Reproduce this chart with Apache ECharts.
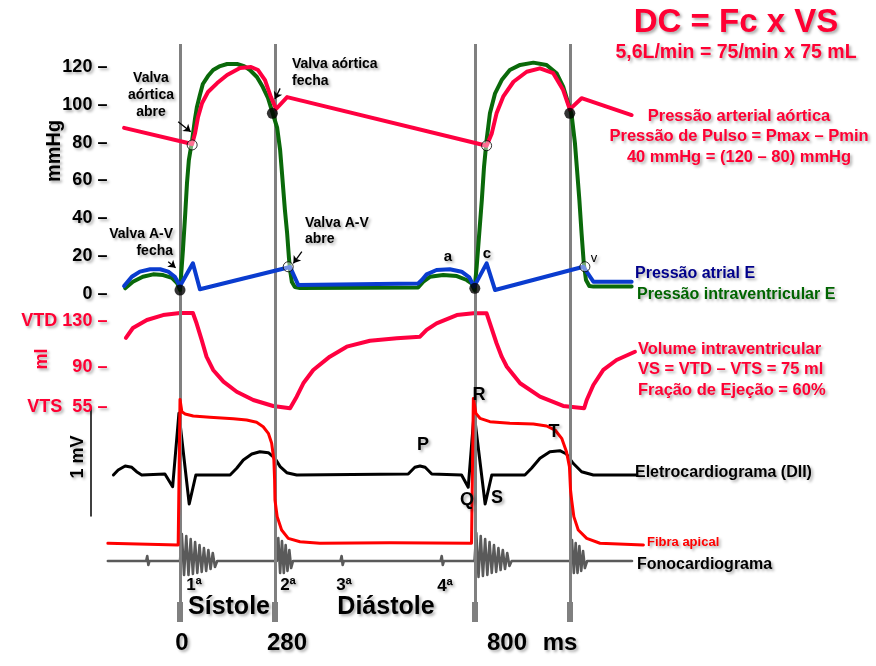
<!DOCTYPE html>
<html><head><meta charset="utf-8">
<script src="https://cdn.jsdelivr.net/npm/echarts@6/dist/echarts.min.js"></script>
<style>html,body{margin:0;padding:0;background:#fff}#c{width:876px;height:666px}</style>
</head><body><div id="c"></div>
<script>
// ---------- DATA (time in ms) ----------
const aorticPressure = [[-152,87.8],[33,79.3],[41,85.1],[49,93.6],[60,101.0],[76,106.8],[101,111.5],[128,115.8],[163,119.5],[193,120.0],[212,118.4],[231,113.1],[247,104.1],[261,97.8],[291,104.1],[833,78.4],[847,84.9],[860,95.5],[878,104.3],[906,112.2],[942,117.5],[978,119.3],[1014,116.7],[1041,107.8],[1059,97.6],[1091,103.5],[1227,94.6]];
const lvPressure = [[-149,3.0],[-128,6.5],[-101,9.1],[-73,10.4],[-46,10.0],[-22,8.5],[-8,5.8],[0,2.1],[5,15.3],[8,23.3],[14,41.8],[19,58.7],[24,70.8],[33,81.4],[41,93.0],[46,98.9],[54,105.2],[62,111.0],[76,115.2],[90,118.4],[109,120.5],[128,121.6],[155,121.6],[174,120.5],[190,118.4],[209,114.7],[225,109.4],[239,103.6],[250,96.7],[264,87.8],[272,76.1],[277,64.0],[285,44.4],[291,32.2],[296,19.0],[299,12.7],[304,6.3],[312,3.7],[326,3.2],[647,3.5],[661,6.5],[679,9.1],[715,10.0],[752,9.5],[779,7.4],[792,5.6],[800,2.1],[806,14.4],[813,32.1],[820,49.7],[826,67.3],[833,81.4],[842,95.5],[856,106.1],[874,113.1],[896,118.4],[924,121.1],[960,122.3],[996,121.1],[1023,116.7],[1041,109.6],[1055,100.8],[1064,94.6],[1073,79.7],[1078,67.3],[1085,49.7],[1091,32.1],[1097,16.2],[1103,7.4],[1112,4.2],[1123,3.9],[1227,3.9]];
const laPressure = [[-152,4.2],[-131,9.1],[-109,11.8],[-81,13.1],[-54,13.1],[-32,11.8],[-14,9.1],[0,4.2],[35,16.2],[54,2.5],[299,14.3],[303,14.4],[321,4.8],[647,5.6],[657,7.4],[670,10.4],[697,12.7],[733,13.1],[765,11.8],[786,8.8],[799,3.9],[833,16.2],[856,2.1],[1096,14.4],[1123,6.5],[1227,6.5]];
const lvVolume = [[-147,115.2],[-128,123.9],[-90,130.9],[-46,135.2],[0,137.0],[35,137.0],[45,128.0],[59,113.4],[72,98.9],[90,87.3],[118,77.1],[154,68.3],[199,61.1],[253,55.9],[299,53.9],[303,53.9],[317,64.0],[335,75.7],[362,87.3],[407,98.9],[453,107.6],[516,112.8],[589,114.9],[652,116.3],[670,122.2],[697,128.0],[752,135.2],[797,136.7],[833,136.7],[860,110.6],[874,98.9],[888,90.1],[924,75.7],[978,64.0],[1041,55.9],[1098,53.9],[1105,61.1],[1123,74.2],[1150,87.3],[1186,96.0],[1236,103.2]];
const ecgMv = [[-181,-0.020],[-168,0.026],[-149,0.063],[-131,0.051],[-118,0.010],[-104,-0.020],[-41,-0.011],[-20,-0.129],[-3,0.551],[25,-0.289],[43,-0.020],[136,-0.020],[154,0.042],[172,0.119],[195,0.174],[217,0.195],[240,0.186],[258,0.134],[272,0.057],[290,0.001],[317,-0.020],[620,-0.011],[638,0.051],[652,0.063],[666,0.051],[684,-0.011],[765,-0.020],[783,-0.134],[799,0.551],[829,-0.289],[847,-0.020],[937,-0.020],[955,0.042],[978,0.134],[1005,0.195],[1032,0.205],[1050,0.174],[1068,0.088],[1091,0.010],[1123,-0.020],[1241,-0.020]];
const apicalFiberMv = [[-196,-89.4],[-5,-90.8],[0,24.7],[5,14.9],[14,13.1],[36,11.5],[81,10.5],[145,9.4],[181,8.3],[208,6.5],[226,3.0],[240,-2.2],[249,-10.1],[255,-23.4],[257,-39.2],[258,-55.1],[264,-68.3],[276,-78.9],[294,-85.5],[326,-88.2],[380,-89.4],[570,-89.0],[792,-89.4],[797,25.5],[804,13.6],[815,9.7],[842,7.0],[896,5.7],[960,5.2],[996,3.6],[1019,0.4],[1037,-6.2],[1050,-16.8],[1058,-28.7],[1061,-47.2],[1064,-55.1],[1070,-68.3],[1082,-78.9],[1105,-85.5],[1141,-89.4],[1259,-90.8]];
const phono = [[-196,0],[-92,0],[-89,5],[-86,-4],[-83,0],[0,0],[5,27],[11,-14],[17,25],[23,-14],[29,22],[35,-13],[41,19],[47,-12],[53,16],[59,-11],[65,13],[71,-10],[77,11],[83,-8],[89,8],[95,-6],[101,0],[263,0],[267,23],[272,-12],[277,20],[282,-12],[287,16],[292,-10],[297,11],[302,-7],[307,0],[436,0],[439,5],[442,-4],[445,0],[708,0],[711,5],[714,-4],[717,0],[800,0],[805,28],[811,-16],[817,25],[823,-15],[829,22],[835,-14],[841,19],[847,-12],[853,16],[859,-11],[865,13],[871,-9],[877,11],[883,-8],[889,8],[895,-5],[901,0],[1061,0],[1065,21],[1070,-12],[1075,18],[1080,-12],[1085,15],[1090,-10],[1095,10],[1100,-7],[1106,0],[1228,0]];
const cycleMarksMs = [0, 258, 801, 1059];
const valveClosed = [[0,2.1],[251,95.5],[801,3.0],[1059,95.5]];
const valveOpen = [[33,78.8],[294,14.4],[833,78.4],[1100,14.4]];
const valveArrows = [[[-5,91.1],[29,85.8]],[[-32,17.1],[-12,13.9]],[[272,108.7],[258,103.1]],[[331,22.4],[308,16.2]]];
const pressureTicks = [0,20,40,60,80,100,120];
const volumeTicks = [130, 90, 55];
const volumeTickNames = ['VTD 130 –', '90 –', 'VTS  55 –'];
const timeLabels = ['0', '280', '800', 'ms'];

// ---------- LAYOUT ----------
const FF = '"Liberation Sans", Arial, Helvetica, sans-serif';
const RED = '#ff0033';
const SH = {textShadowColor:'rgba(0,0,0,0.33)', textShadowBlur:3, textShadowOffsetX:2, textShadowOffsetY:2};
const L = 106.4, R = 217.5;
const XMIN = -200, XMAX = 1300;

function T(text, x, y, size, color, o) {
  o = o || {};
  const st = Object.assign({
    text: text, font: (o.weight || 'bold') + ' ' + size + 'px ' + FF, fill: color,
    align: o.align || 'center', verticalAlign: 'middle',
    textAlign: o.align || 'center', textVerticalAlign: 'middle'
  }, SH);
  if (o.lh) st.lineHeight = o.lh;
  return {type:'text', x:x, y:y, rotation:o.rot || 0, silent:true, z:100, style:st};
}

const grids = [
  {top:29.16, height:302.67},   // pressure
  {top:298.07, height:126.13},  // volume
  {top:408, height:108},        // ECG
  {top:380.1, height:176.5},    // apical fibre
  {top:521, height:80},         // phono
  {top:44, height:558},         // thin markers
  {top:602, height:20}          // thick markers
].map(g => Object.assign({left:L, right:R, containLabel:false, outerBoundsMode:'none'}, g));

const xAxes = grids.map((g,i) => ({gridIndex:i, type:'value', min:XMIN, max:XMAX, show:false}));
const hidden = {axisLine:{show:false, onZero:false}, axisTick:{show:false}, splitLine:{show:false}};
const yAxes = [
  Object.assign({gridIndex:0, type:'value', min:-20, max:140, interval:20,
    axisLabel:Object.assign({margin:-1, fontSize:18, fontWeight:'bold', fontFamily:FF, color:'#000',
      formatter: v => pressureTicks.indexOf(v) >= 0 ? v + ' –' : ''}, SH)}, hidden),
  Object.assign({gridIndex:1, type:'value', min:40, max:150,
    axisLabel:Object.assign({customValues:volumeTicks, margin:-1, fontSize:18, fontWeight:'bold', fontFamily:FF, color:RED,
      formatter: v => { const k = volumeTicks.indexOf(v); return k >= 0 ? volumeTickNames[k] : ''; }}, SH)}, hidden),
  {gridIndex:2, type:'value', min:-0.4, max:0.6, offset:15.4,
    axisLine:{show:true, onZero:false, lineStyle:{color:'#000', width:1.5}}, axisTick:{show:false}, axisLabel:{show:false}, splitLine:{show:false}},
  {gridIndex:3, type:'value', min:-100, max:40, show:false},
  {gridIndex:4, type:'value', min:-40, max:40, show:false},
  {gridIndex:5, type:'value', min:0, max:1, show:false},
  {gridIndex:6, type:'value', min:0, max:1, show:false}
];

function lineS(data, gi, color, width, z) {
  return {type:'line', xAxisIndex:gi, yAxisIndex:gi, data:data, symbol:'none', smooth:false, clip:false,
    silent:true, z:z, lineStyle:{color:color, width:width, join:'round', cap:'round'}};
}

const series = [
  {type:'line', xAxisIndex:5, yAxisIndex:5, data:[], z:1, silent:true,
    markLine:{silent:true, symbol:['none','none'], label:{show:false}, animation:false,
      lineStyle:{color:'#808080', width:3, type:'solid'}, data:cycleMarksMs.map(v => ({xAxis:v}))}},
  {type:'line', xAxisIndex:6, yAxisIndex:6, data:[], z:1, silent:true,
    markLine:{silent:true, symbol:['none','none'], label:{show:false}, animation:false,
      lineStyle:{color:'#808080', width:6, type:'solid'}, data:cycleMarksMs.map(v => ({xAxis:v}))}},
  lineS(phono, 4, '#5a5a5a', 2.6, 3),
  lineS(lvVolume, 1, '#ff0040', 4, 4),
  lineS(ecgMv, 2, '#000', 3, 4),
  lineS(apicalFiberMv, 3, '#ff0000', 3, 5),
  lineS(lvPressure, 0, '#0a690a', 4, 6),
  lineS(laPressure, 0, '#0a3ccf', 4, 7),
  lineS(aorticPressure, 0, '#ff0040', 4, 8),
  {type:'line', xAxisIndex:0, yAxisIndex:0, data:[], z:9, silent:true,
    markLine:{silent:true, symbol:['none','arrow'], symbolSize:7, label:{show:false}, animation:false,
      lineStyle:{color:'#000', width:1.3, type:'solid'},
      data:valveArrows.map(a => [{coord:a[0]}, {coord:a[1]}])}},
  {type:'scatter', xAxisIndex:0, yAxisIndex:0, data:valveOpen, symbolSize:10, z:10, silent:true,
    itemStyle:{color:'rgba(255,255,255,0.55)', borderColor:'#000', borderWidth:1}},
  {type:'scatter', xAxisIndex:0, yAxisIndex:0, data:valveClosed, symbolSize:11, z:10, silent:true,
    itemStyle:{color:'#000'}}
];

const graphics = [
  T('DC = Fc x VS', 736, 23, 33, RED),
  T('5,6L/min = 75/min x 75 mL', 736, 53, 19.5, RED),
  T('Pressão arterial aórtica\nPressão de Pulso = Pmax – Pmin\n40 mmHg = (120 – 80) mmHg', 739, 136.5, 16.5, RED, {lh:20.5}),
  T('Pressão atrial E', 635, 274, 16, '#00008b', {align:'left'}),
  T('Pressão intraventricular E', 637, 295, 16, '#006400', {align:'left'}),
  T('Volume intraventricular\nVS = VTD – VTS = 75 ml\nFração de Ejeção = 60%', 638, 369.5, 16.5, RED, {align:'left', lh:20.5}),
  T('Eletrocardiograma (DII)', 635, 473, 16, '#000', {align:'left'}),
  T('Fibra apical', 647, 542, 13, '#ff0000', {align:'left'}),
  T('Fonocardiograma', 637, 565, 16, '#000', {align:'left'}),
  T('mmHg', 54, 151, 20, '#000', {rot:Math.PI/2}),
  T('ml', 42, 359, 18, RED, {rot:Math.PI/2}),
  T('1 mV', 78, 457, 18, '#000', {rot:Math.PI/2}),
  T('Valva\naórtica\nabre', 151, 95, 14, '#000', {lh:17}),
  T('Valva aórtica\nfecha', 292, 72.5, 14, '#000', {align:'left', lh:17}),
  T('Valva A-V\nfecha', 173, 242.5, 14, '#000', {align:'right', lh:17}),
  T('Valva A-V\nabre', 305, 231, 14, '#000', {align:'left', lh:16}),
  T('a', 448, 257, 15, '#000'),
  T('c', 487, 254, 15, '#000'),
  T('v', 594, 258, 13, '#000', {weight:'normal'}),
  T('P', 423, 445, 18, '#000'),
  T('R', 479, 395, 18, '#000'),
  T('T', 554, 432, 18, '#000'),
  T('Q', 467, 500, 18, '#000'),
  T('S', 497, 498, 18, '#000'),
  T('1ª', 194, 585, 17, '#000'),
  T('2ª', 288, 585, 17, '#000'),
  T('3ª', 344, 585, 17, '#000'),
  T('4ª', 445, 586, 17, '#000'),
  T('Sístole', 229, 607, 25, '#000'),
  T('Diástole', 386, 607, 25, '#000'),
  T(timeLabels[0], 182, 643, 24, '#000'),
  T(timeLabels[1], 287, 643, 24, '#000'),
  T(timeLabels[2], 507, 643, 24, '#000'),
  T(timeLabels[3], 560, 643, 24, '#000')
];

const chart = echarts.init(document.getElementById('c'), null, {renderer:'canvas'});
chart.setOption({
  backgroundColor:'#fff',
  animation:false,
  grid:grids, xAxis:xAxes, yAxis:yAxes, series:series, graphic:graphics
});
</script>
</body></html>
